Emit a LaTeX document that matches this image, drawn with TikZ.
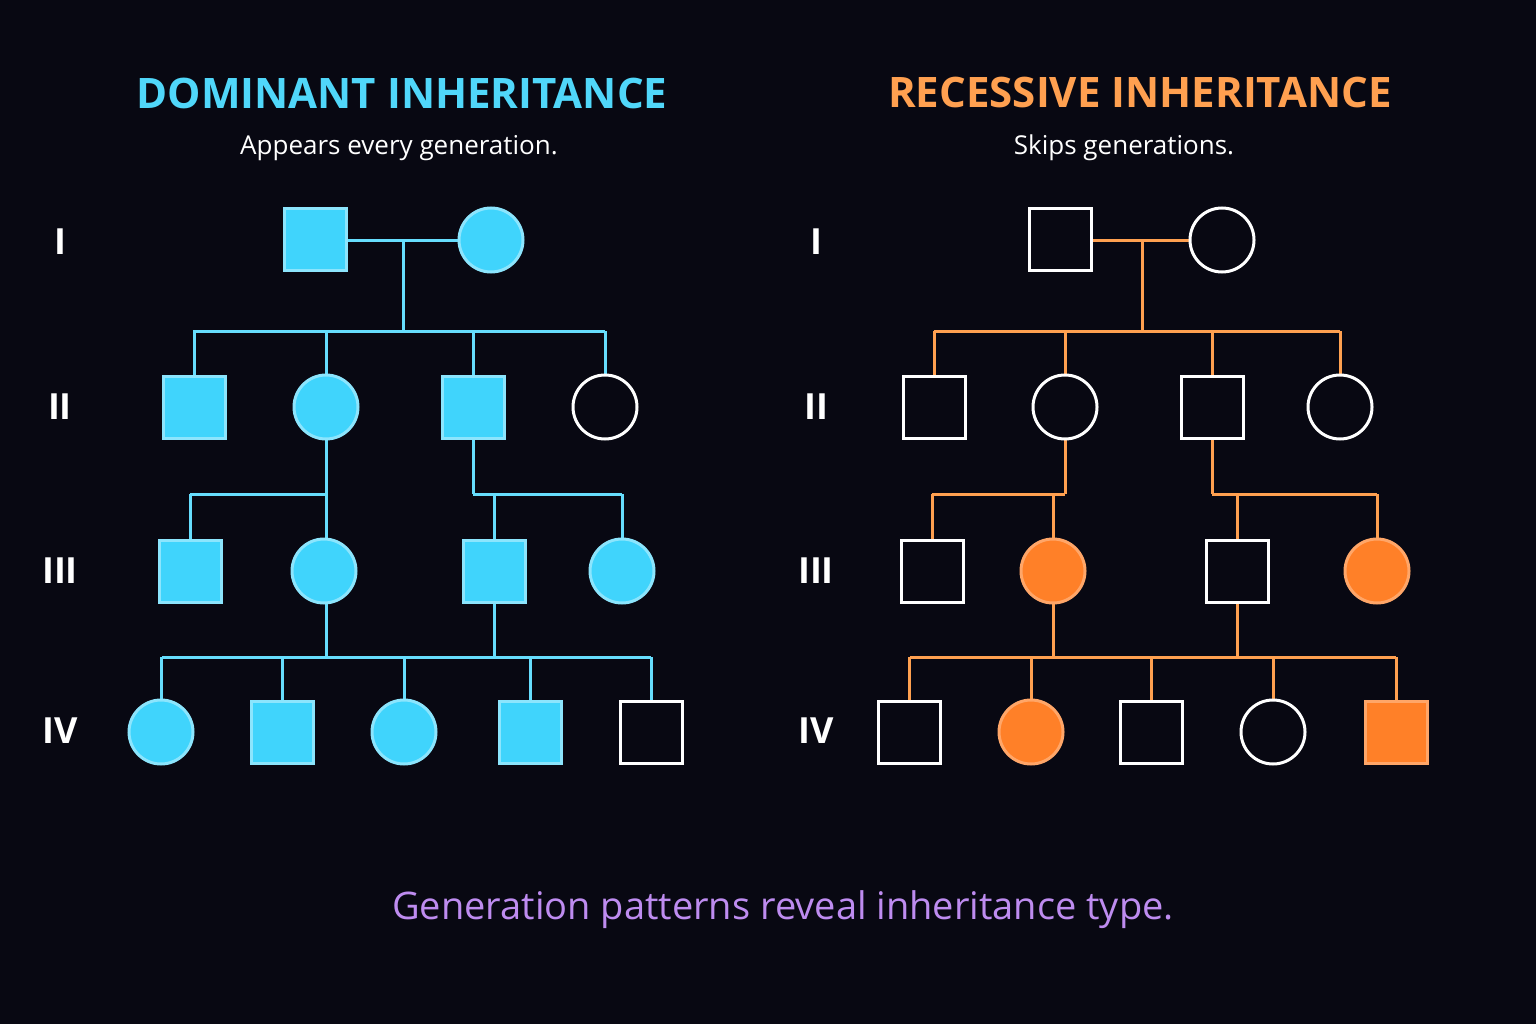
\documentclass[tikz,border=0pt]{standalone}
\usepackage{fontspec}
\setmainfont{Open Sans}
\usepackage{tikz}
\usetikzlibrary{positioning}
\definecolor{bgc}{RGB}{8,8,18}
\definecolor{domc}{RGB}{64,212,252}
\definecolor{recc}{RGB}{255,128,40}
\definecolor{recl}{RGB}{255,160,80}
\definecolor{domt}{RGB}{80,215,250}
\definecolor{rect}{RGB}{255,160,80}
\definecolor{purp}{RGB}{190,140,240}
\tikzset{
  male/.style={draw, rectangle, minimum size=62pt, inner sep=0pt, line width=3pt},
  female/.style={draw, circle, minimum size=64pt, inner sep=0pt, line width=3pt},
  domfill/.style={fill=domc, draw=domc!60!white},
  recfill/.style={fill=recc, draw=recc!70!white},
  empty/.style={draw=white, fill=bgc},
  domline/.style={draw=domc!80!white, line width=3pt},
  recline/.style={draw=recl, line width=3pt},
  genlabel/.style={text=white, font=\bfseries\fontsize{36}{40}\selectfont},
}
\begin{document}
\begin{tikzpicture}[x=1pt,y=1pt,yscale=-1]
% background
\fill[bgc] (0,0) rectangle (1536,1024);
\useasboundingbox (0,0) rectangle (1536,1024);

% Text Node
\node[text=domt, font=\bfseries\fontsize{42}{46}\selectfont] (domtitle) at (402,93) {DOMINANT INHERITANCE};
\node[text=white, font=\fontsize{26}{30}\selectfont] (domsub) at (399,148) {Appears every generation.};
\node[text=rect, font=\bfseries\fontsize{42}{46}\selectfont] (rectitle) at (1140,93) {RECESSIVE INHERITANCE};
\node[text=white, font=\fontsize{26}{30}\selectfont] (recsub) at (1124,148) {Skips generations.};
\node[text=purp, font=\fontsize{38}{42}\selectfont] (caption) at (783,910) {Generation patterns reveal inheritance type.};

% generation labels
\foreach \g/\y in {I/242,II/407,III/571,IV/731}{
  \node[genlabel] at (60,\y) {\g};
  \node[genlabel] at (816,\y) {\g};
}

%%% Dominant pedigree
% connectors first
\coordinate (dA) at (403,241);
\coordinate (dB) at (403,331);
\draw[domline] (315,241) -- (491,241);
\draw[domline] (dA) -- (dB);
\draw[domline] (193,331) -- (605,331);
\foreach \x in {194,326,473,605} \draw[domline] (\x,331) -- (\x,407);
\draw[domline] (326,407) -- (326,571);
\draw[domline] (190,494) -- (326,494);
\draw[domline] (190,494) -- (190,571);
\draw[domline] (473,407) -- (473,494);
\draw[domline] (473,494) -- (622,494);
\draw[domline] (494,494) -- (494,657);
\draw[domline] (622,494) -- (622,571);
\draw[domline] (326,571) -- (326,657);
\draw[domline] (162,657) -- (651,657);
\foreach \x in {161,282,404,530,651} \draw[domline] (\x,657) -- (\x,732);
% Shapes
\node[male, domfill] (dI1) at (315,240) {};
\node[female, domfill] (dI2) at (491,240) {};
\node[male, domfill] (dII1) at (194,407) {};
\node[female, domfill] (dII2) at (326,407) {};
\node[male, domfill] (dII3) at (473,407) {};
\node[female, empty] (dII4) at (605,407) {};
\node[male, domfill] (dIII1) at (190,571) {};
\node[female, domfill] (dIII2) at (324,571) {};
\node[male, domfill] (dIII3) at (494,571) {};
\node[female, domfill] (dIII4) at (622,571) {};
\node[female, domfill] (dIV1) at (161,732) {};
\node[male, domfill] (dIV2) at (282,732) {};
\node[female, domfill] (dIV3) at (404,732) {};
\node[male, domfill] (dIV4) at (530,732) {};
\node[male, empty] (dIV5) at (651,732) {};

%%% Recessive pedigree
\draw[recline] (1060,241) -- (1222,241);
\draw[recline] (1142,241) -- (1142,331);
\draw[recline] (934,331) -- (1340,331);
\foreach \x in {934,1065,1212,1340} \draw[recline] (\x,331) -- (\x,407);
\draw[recline] (1065,407) -- (1065,494);
\draw[recline] (932,494) -- (1065,494);
\draw[recline] (932,494) -- (932,571);
\draw[recline] (1053,494) -- (1053,657);
\draw[recline] (1212,407) -- (1212,494);
\draw[recline] (1212,494) -- (1377,494);
\draw[recline] (1237,494) -- (1237,657);
\draw[recline] (1377,494) -- (1377,571);
\draw[recline] (910,657) -- (1396,657);
\foreach \x in {909,1031,1151,1273,1396} \draw[recline] (\x,657) -- (\x,732);
% Shapes
\node[male, empty] (rI1) at (1060,240) {};
\node[female, empty] (rI2) at (1222,240) {};
\node[male, empty] (rII1) at (934,407) {};
\node[female, empty] (rII2) at (1065,407) {};
\node[male, empty] (rII3) at (1212,407) {};
\node[female, empty] (rII4) at (1340,407) {};
\node[male, empty] (rIII1) at (932,571) {};
\node[female, recfill] (rIII2) at (1053,571) {};
\node[male, empty] (rIII3) at (1237,571) {};
\node[female, recfill] (rIII4) at (1377,571) {};
\node[male, empty] (rIV1) at (909,732) {};
\node[female, recfill] (rIV2) at (1031,732) {};
\node[male, empty] (rIV3) at (1151,732) {};
\node[female, empty] (rIV4) at (1273,732) {};
\node[male, recfill] (rIV5) at (1396,732) {};
\end{tikzpicture}
\end{document}
